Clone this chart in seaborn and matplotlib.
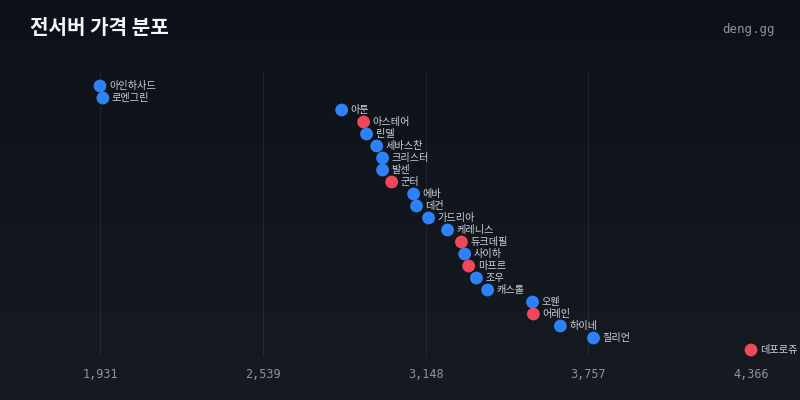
import numpy as np
import pandas as pd
import matplotlib
matplotlib.use("Agg")
import matplotlib.pyplot as plt
import seaborn as sns

# server names, average price, highlight flag
servers = ["아인하사드", "로엔그린", "아툰", "아스테어", "린델", "세바스찬", "크리스터",
           "발센", "군터", "에바", "데컨", "가드리아", "케레니스", "듀크데필", "사이하",
           "마프르", "조우", "캐스톨", "오웬", "어레인", "하이네", "질리언", "데포로쥬"]
prices = [1931, 1942, 2835, 2917, 2928, 2966, 2988,
          2988, 3022, 3104, 3115, 3160, 3231, 3283, 3295,
          3310, 3339, 3381, 3549, 3552, 3653, 3777, 4366]
highlight = [False, False, False, True, False, False, False,
             False, True, False, False, False, False, True, False,
             True, False, False, False, True, False, False, True]

df = pd.DataFrame({"server": servers, "price": prices, "hot": highlight})
df["row"] = np.arange(len(df))
df["group"] = np.where(df["hot"], "hot", "normal")

BLUE = "#2f81f7"
RED = "#f0475a"

sns.set_theme(style="dark")
plt.rcParams["font.family"] = ["Noto Sans CJK KR", "DejaVu Sans"]

fig = plt.figure(figsize=(8, 4), dpi=100)

# background gradient
bg = fig.add_axes([0, 0, 1, 1])
grad = np.linspace(0, 1, 256).reshape(-1, 1)
cmap = matplotlib.colors.LinearSegmentedColormap.from_list("bg", ["#0d1117", "#161b22"])
bg.imshow(grad, aspect="auto", cmap=cmap, extent=[0, 1, 0, 1], origin="upper")
bg.set_axis_off()

ax = fig.add_axes([100 / 800, 44 / 400, 651 / 800, 285 / 400])
ax.patch.set_alpha(0)

lo, hi = min(prices), max(prices)
ticks = np.linspace(lo, hi, 5)
for t in ticks:
    ax.axvline(t, color="#ffffff", alpha=0.07, lw=0.8, zorder=0)

sns.scatterplot(data=df, x="price", y="row", hue="group",
                palette={"normal": BLUE, "hot": RED}, s=85, edgecolor="none",
                legend=False, ax=ax, clip_on=False, zorder=3)

for _, r in df.iterrows():
    ax.annotate(r["server"], (r["price"], r["row"]), xytext=(9, 0),
                textcoords="offset pixels",
                va="center", ha="left", fontsize=7.3, color="#c9d1d9")

ax.set_xlim(lo, hi)
ax.set_ylim(22.5, -1.25)
ax.set_xticks(ticks)
ax.set_xticklabels([f"{int(t):,}" for t in ticks], family="DejaVu Sans Mono",
                   fontsize=8.5, color="#8b949e")
ax.tick_params(axis="x", length=0, pad=9)
ax.set_yticks([])
ax.set_xlabel("")
ax.set_ylabel("")
for s in ax.spines.values():
    s.set_visible(False)
ax.grid(False)

fig.text(30 / 800, 1 - 28 / 400, "전서버 가격 분포", fontsize=14.5, fontweight="bold",
         color="#f0f6fc", va="center", ha="left")
fig.text(775 / 800, 1 - 30 / 400, "deng.gg", family="DejaVu Sans Mono", fontsize=9,
         color="#8b949e", va="center", ha="right")

fig.savefig("out.png", dpi=100)
